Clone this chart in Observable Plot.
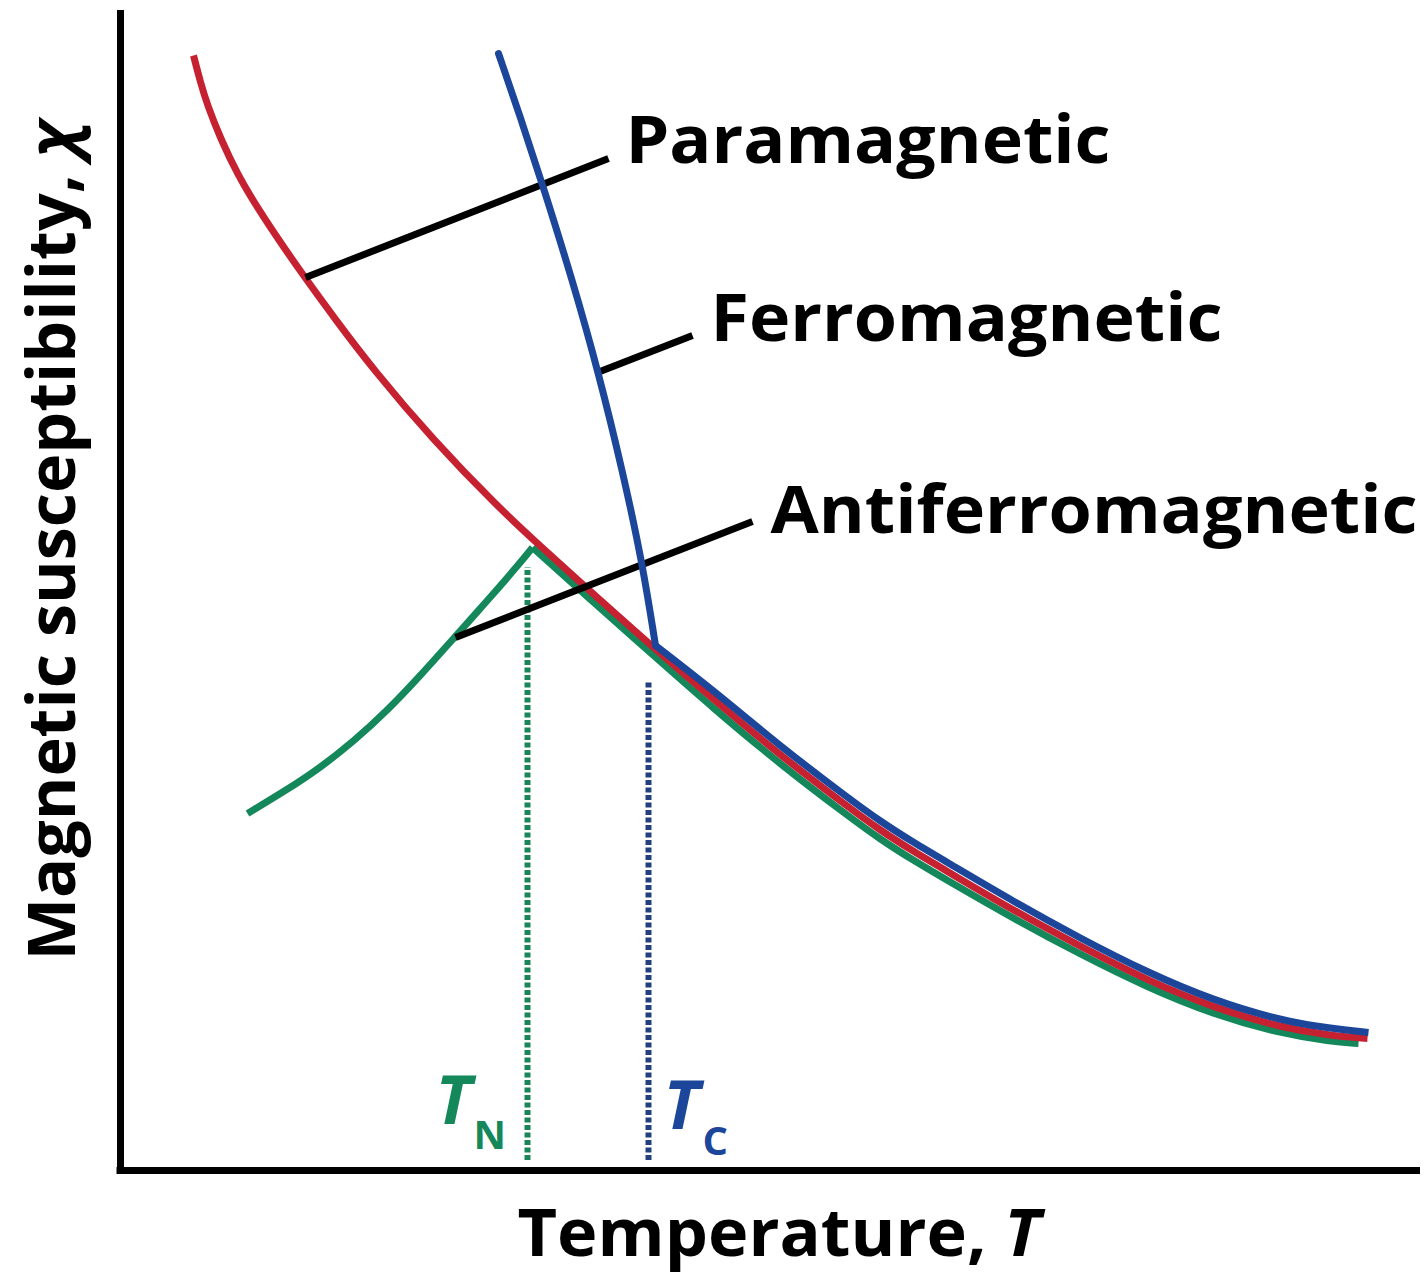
<!DOCTYPE html>
<html>
<head>
<meta charset="utf-8">
<script src="https://cdn.jsdelivr.net/npm/d3@7"></script>
<script src="https://cdn.jsdelivr.net/npm/@observablehq/plot@0.6"></script>
<style>
  html, body { margin: 0; padding: 0; background: #fff; }
  #chart svg { display: block; }
</style>
</head>
<body>
<div id="chart"></div>
<script>
// ---- Data (arbitrary units: temperature T, susceptibility chi) ----
// Paramagnetic (Curie law)
const paraT   = [7.3, 8.0, 8.7, 10.0, 11.7, 13.8, 16.0, 18.5, 21.5, 25.2, 31.3, 37.8, 41.7, 48.0, 53.3, 59.3, 66.0, 72.7, 76.0, 79.3, 82.7, 89.3, 96.0, 102.7, 109.3, 116.0, 121.0, 124.7];
const paraChi = [111.5, 108.8, 106.5, 103.2, 99.6, 96.1, 92.8, 89.2, 85.1, 80.2, 73.0, 66.3, 62.7, 57.0, 52.3, 47.1, 41.5, 36.4, 34.0, 31.9, 29.9, 26.0, 22.4, 19.0, 16.3, 14.3, 13.5, 13.2];

// Ferromagnetic (kink at the Curie temperature, index ferroKink)
const ferroT   = [37.8, 40.1, 42.3, 45.2, 47.8, 50.2, 52.2, 53.5, 59.3, 66.0, 72.7, 76.0, 79.3, 82.7, 89.3, 96.0, 102.7, 109.3, 116.0, 121.0, 124.8];
const ferroChi = [111.7, 105.0, 98.3, 89.0, 79.8, 70.0, 60.7, 52.5, 48.0, 42.4, 37.3, 34.9, 32.8, 30.8, 26.9, 23.2, 19.8, 17.0, 15.0, 14.2, 13.8];
const ferroKink = 7;

// Antiferromagnetic (peak at the Neel temperature, index antiPeak)
const antiT   = [12.7, 16.7, 20.0, 23.3, 26.7, 30.0, 33.3, 36.7, 40.0, 41.2, 48.0, 53.3, 59.3, 66.0, 72.7, 76.0, 79.3, 82.7, 89.3, 96.0, 102.7, 109.3, 116.0, 121.0, 123.8];
const antiChi = [35.7, 38.1, 40.3, 42.9, 46.0, 49.5, 53.2, 57.0, 60.8, 62.3, 56.2, 51.5, 46.2, 40.6, 35.5, 33.1, 31.0, 29.0, 25.2, 21.6, 18.3, 15.6, 13.7, 12.9, 12.7];
const antiPeak = 9;

// Transition temperatures (dotted markers)
const tN = 40.7, tNTop = 60.3;
const tC = 52.8, tCTop = 48.8;
const markerBottom = 1.0;

// Labels with leader lines
const labelText = ["Paramagnetic", "Ferromagnetic", "Antiferromagnetic"];
const labelT    = [50.5, 59.0, 65.0];
const labelChi  = [100.8, 83.0, 63.8];
const leaderT1   = [18.5, 47.7, 33.5];
const leaderChi1 = [89.3, 79.8, 53.3];
const leaderT2   = [48.8, 57.2, 63.2];
const leaderChi2 = [101.2, 83.5, 64.9];

// Axis titles
const xTitle = "Temperature, T";
const yTitle = "Magnetic susceptibility, χ";

// ---- Build tables ----
const zip = (xs, ys) => xs.map((x, i) => ({T: x, chi: ys[i]}));
const para = zip(paraT, paraChi);
const ferro = zip(ferroT, ferroChi);
const ferroSteep = ferro.slice(0, ferroKink + 1);
const ferroTail = ferro.slice(ferroKink);
const anti = zip(antiT, antiChi);
const antiRise = anti.slice(0, antiPeak + 1);
const antiFall = anti.slice(antiPeak);
const labels = labelText.map((s, i) => ({s, T: labelT[i], chi: labelChi[i]}));
const leaders = labelText.map((s, i) => ({T1: leaderT1[i], chi1: leaderChi1[i], T2: leaderT2[i], chi2: leaderChi2[i]}));

const RED = "#c62131", BLUE = "#1b469a", GREEN = "#14885a";
const GREEN_DOT = "#1a8558", BLUE_DOT = "#22407e";
const FONT = "Open Sans";
const lineOpts = {x: "T", y: "chi", curve: "basis", strokeWidth: 7, strokeLinecap: "butt", strokeLinejoin: "round"};

const chart = Plot.plot({
  width: 1424,
  height: 1275,
  marginLeft: 120,
  marginRight: 4,
  marginTop: 10,
  marginBottom: 105,
  x: {domain: [0, 130], axis: null},
  y: {domain: [0, 116], axis: null},
  style: {fontFamily: FONT, background: "white", overflow: "visible"},
  marks: [
    // axes
    Plot.ruleX([0], {y1: -0.35, y2: 116, stroke: "black", strokeWidth: 7}),
    Plot.ruleY([0], {x1: -0.35, x2: 130, stroke: "black", strokeWidth: 7}),
    // dotted transition markers
    Plot.ruleX([tN], {y1: markerBottom, y2: tNTop, stroke: GREEN_DOT, strokeWidth: 6, strokeDasharray: "5,2.5"}),
    Plot.ruleX([tC], {y1: markerBottom, y2: tCTop, stroke: BLUE_DOT, strokeWidth: 6, strokeDasharray: "5,2.5"}),
    // curves
    Plot.line(antiRise, {...lineOpts, stroke: GREEN}),
    Plot.line(antiFall, {...lineOpts, stroke: GREEN}),
    Plot.line(para, {...lineOpts, stroke: RED}),
    // leader lines
    Plot.link(leaders, {x1: "T1", y1: "chi1", x2: "T2", y2: "chi2", stroke: "black", strokeWidth: 7, strokeLinecap: "butt"}),
    Plot.line(ferroSteep, {...lineOpts, stroke: BLUE, strokeLinecap: "round"}),
    Plot.line(ferroTail, {...lineOpts, stroke: BLUE}),
    // labels
    Plot.text(labels, {x: "T", y: "chi", text: "s", textAnchor: "start", lineAnchor: "bottom", fontSize: 67, fontWeight: 700, fontFamily: FONT, fill: "black"}),
    // T_N, T_C
    Plot.text([tN], {x: () => 31.5, y: () => 4.7, text: () => "T", textAnchor: "start", lineAnchor: "bottom", fontSize: 68, fontWeight: 700, fontStyle: "italic", fontFamily: FONT, fill: GREEN}),
    Plot.text([tN], {x: () => 35.3, y: () => 2.2, text: () => "N", textAnchor: "start", lineAnchor: "bottom", fontSize: 40, fontWeight: 700, fontFamily: FONT, fill: GREEN}),
    Plot.text([tC], {x: () => 54.3, y: () => 4.2, text: () => "T", textAnchor: "start", lineAnchor: "bottom", fontSize: 68, fontWeight: 700, fontStyle: "italic", fontFamily: FONT, fill: BLUE}),
    Plot.text([tC], {x: () => 58.2, y: () => 1.6, text: () => "C", textAnchor: "start", lineAnchor: "bottom", fontSize: 40, fontWeight: 700, fontFamily: FONT, fill: BLUE}),
    // axis titles
    Plot.text([xTitle], {x: () => 65.85, y: () => -8.5, text: d => d, textAnchor: "middle", lineAnchor: "bottom", fontSize: 67, fontWeight: 700, fontFamily: FONT, fill: "black"}),
    Plot.text([yTitle], {x: () => -4.6, y: () => 63.0, text: d => d, rotate: -90, textAnchor: "middle", lineAnchor: "bottom", fontSize: 67, fontWeight: 700, fontFamily: FONT, fill: "black"})
  ]
});

// Post-process: italic variable symbols and label widths
const widths = {
  "Paramagnetic": 485,
  "Ferromagnetic": 512,
  "Antiferromagnetic": 647,
  [xTitle]: 523,
  [yTitle]: 840
};
chart.querySelectorAll("text").forEach(t => {
  const s = t.textContent;
  if (s === xTitle || s === yTitle) {
    const head = s.slice(0, -1), sym = s.slice(-1);
    t.textContent = "";
    const a = document.createElementNS("http://www.w3.org/2000/svg", "tspan");
    a.textContent = head;
    const b = document.createElementNS("http://www.w3.org/2000/svg", "tspan");
    b.textContent = sym;
    b.setAttribute("font-style", "italic");
    t.appendChild(a); t.appendChild(b);
  }
  if (widths[s]) {
    t.setAttribute("textLength", widths[s]);
    t.setAttribute("lengthAdjust", "spacingAndGlyphs");
  }
});

document.getElementById("chart").appendChild(chart);
</script>
</body>
</html>
